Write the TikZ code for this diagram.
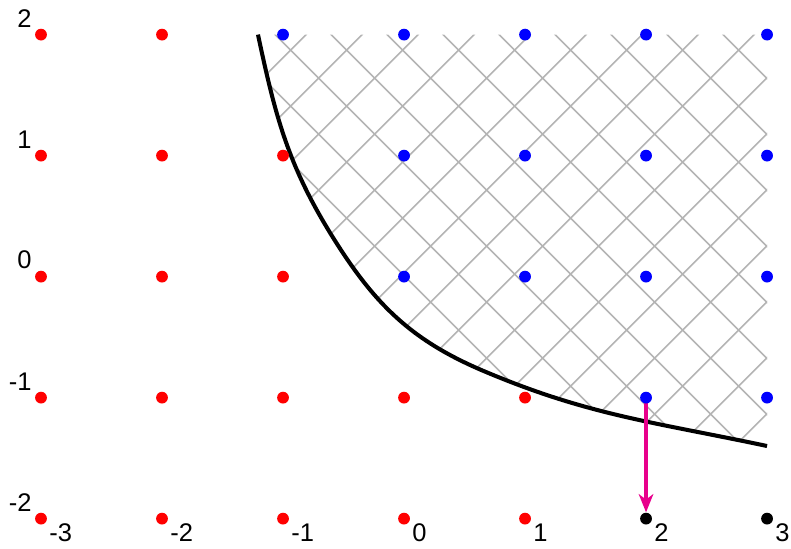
\documentclass[tikz,border=0pt]{standalone}
\usepackage{fontspec}
\setmainfont{Liberation Sans}
\usetikzlibrary{arrows.meta,calc}
\definecolor{hatchgray}{RGB}{180,180,180}
\definecolor{arrowmag}{RGB}{232,0,140}
\begin{document}
\begin{tikzpicture}[x=2cm,y=2cm,
  dot/.style={circle,inner sep=0pt,minimum size=0.195cm,fill=#1,draw=none},
  lab/.style={inner sep=0pt,font=\fontsize{12}{14}\selectfont},
  xlab/.style={lab,anchor=north west},
  ylab/.style={lab,anchor=south east},
  hatchline/.style={draw=hatchgray,line width=0.75pt},
  bound/.style={line width=1.9pt,black},
  move/.style={draw=arrowmag,line width=1.7pt,-{Stealth[length=0.3cm,width=0.24cm,inset=0.09cm]}}]
\useasboundingbox (-3.339,-2.244) rectangle (3.198,2.286);
\coordinate (c0) at (-1.207,2.0);
\coordinate (c1) at (-0.587,0.323);
\coordinate (c2) at (0.653,-0.778);
\coordinate (c3) at (3.0,-1.40);
\coordinate (c4) at (3.0,2.0);
\def\boundary{(c0) to[out=-78,in=122] (c1) to[out=-58,in=157] (c2) to[out=-23,in=168] (c3)}
% hatched region
\begin{scope}
  \clip \boundary -- (c4) -- cycle;
  \foreach \k in {-8,...,20}{
    \pgfmathsetmacro{\c}{-2.347+0.4628*\k}
    \pgfmathsetmacro{\d}{1.397+0.4628*\k}
    \draw[hatchline] (\c-5,-5) -- (\c+5,5);
    \draw[hatchline] (\d-5,5) -- (\d+5,-5);
  }
\end{scope}
\draw[bound] \boundary;
% dots
\foreach \x/\y/\n in {-3/2/a, -2/2/b, -3/1/c, -2/1/d, -1/1/e, -3/0/f, -2/0/g, -1/0/h,
  -3/-1/i, -2/-1/j, -1/-1/k, 0/-1/l, 1/-1/m, -3/-2/n, -2/-2/o, -1/-2/p, 0/-2/q, 1/-2/r}
  \node[dot=red] (r\n) at (\x,\y) {};
\foreach \x/\y/\n in {-1/2/a, 0/2/b, 1/2/c, 2/2/d, 3/2/e, 0/1/f, 1/1/g, 2/1/h, 3/1/i,
  0/0/j, 1/0/k, 2/0/l, 3/0/m, 3/-1/o}
  \node[dot=blue] (b\n) at (\x,\y) {};
\node[dot=black] (k2) at (2,-2) {};
\node[dot=black] (k3) at (3,-2) {};
\coordinate (start) at (2,-1);
\draw[move] (start) -- (k2);
\node[dot=blue] (bn) at (start) {};
% axis labels
\foreach \y in {2,1,0,-1,-2}
  \node[ylab] (yl\y) at ($(-3,\y)+(-0.074,0.058)$) {\y};
\foreach \x in {-3,-2,-1,0,1,2,3}
  \node[xlab] (xl\x) at ($(\x,-2)+(0.066,-0.04)$) {\x};
\end{tikzpicture}
\end{document}
